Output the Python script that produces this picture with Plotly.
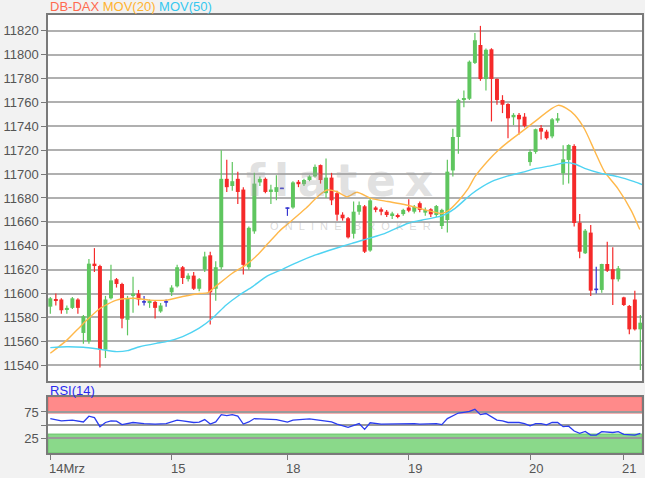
import plotly.graph_objects as go

# ---------------- data ----------------
opens = [11589, 11595, 11595, 11587, 11588, 11595, 11567, 11560, 11625, 11623,
         11553, 11596, 11612, 11608, 11578, 11598, 11600, 11593, 11592, 11593,
         11585, 11593, 11601, 11606, 11622, 11612, 11615, 11604, 11620, 11632,
         11604, 11622, 11696, 11690, 11696, 11687, 11622, 11652, 11693, 11696,
         11685, 11685, 11688, 11671.5, 11672, 11693.5, 11691.5, 11695, 11698, 11707.5,
         11684, 11697, 11684, 11666, 11663, 11650, 11668.5, 11673, 11636, 11672,
         11670.5, 11668.5, 11665.7, 11665.7, 11666.5, 11672, 11668.5, 11675.6, 11667.7, 11670.5,
         11665.7, 11656.5, 11661.5, 11703, 11731, 11762, 11763, 11793, 11808, 11779.5,
         11804.4, 11779.6, 11762, 11758.6, 11747.5, 11749.5, 11748, 11710, 11718.5, 11738.5,
         11735.5, 11731.5, 11744.7, 11700.6, 11711.8, 11723.5, 11659.3, 11633.7, 11651, 11603.5,
         11603, 11624.7, 11620.3, 11611.9, 11596.8, 11589.6, 11595, 11570]
highs = [11597, 11600, 11596, 11590, 11597, 11596, 11582, 11629, 11638, 11624,
         11598, 11624, 11613, 11609, 11598, 11614, 11603, 11598, 11595, 11594,
         11592, 11595, 11607, 11624, 11623, 11617, 11618, 11613, 11635, 11635,
         11627, 11720, 11712, 11710, 11702, 11689, 11656, 11701, 11698, 11697,
         11691, 11699, 11688.5, 11672, 11694, 11695, 11696, 11699, 11708, 11708,
         11713, 11701, 11686, 11668, 11664, 11677, 11677, 11674, 11680, 11673,
         11672, 11670, 11668.5, 11667, 11671, 11679, 11674, 11677, 11672, 11671.3,
         11674, 11671, 11712, 11738, 11763, 11770, 11795, 11818, 11824, 11805,
         11805.3, 11780, 11766, 11759.2, 11751, 11751, 11751, 11720.5, 11738, 11741,
         11737, 11747, 11751, 11724, 11725, 11725, 11666.6, 11654, 11657.4, 11622.5,
         11625, 11643.4, 11638.7, 11623, 11597.4, 11590.4, 11602.4, 11582]
lows = [11583, 11590, 11583, 11583, 11587, 11583, 11558, 11558, 11618, 11538,
        11546, 11595, 11605, 11571, 11565, 11584, 11590, 11590, 11588, 11579,
        11584, 11589, 11598, 11605, 11608, 11610, 11603, 11602, 11618, 11574,
        11594, 11620, 11685, 11686, 11675, 11616, 11620, 11650, 11690, 11684,
        11675, 11678, 11687.5, 11665, 11671, 11689, 11690, 11694, 11697, 11692,
        11680, 11674, 11661, 11661, 11646, 11646, 11666, 11634, 11635, 11668,
        11665.5, 11664, 11662.4, 11663, 11665, 11668, 11667, 11668, 11665, 11664,
        11664, 11654, 11651, 11698, 11717, 11756, 11762, 11792, 11778, 11770,
        11744, 11758, 11751, 11730, 11741, 11733, 11739, 11707, 11717, 11729,
        11729, 11730, 11743, 11691, 11692, 11656, 11629.5, 11633, 11598, 11600,
        11600.7, 11618, 11590.4, 11610, 11589.6, 11566, 11569, 11536]
closes = [11596, 11594, 11586, 11588, 11596, 11588, 11581, 11625, 11623, 11553,
          11595, 11611, 11608, 11579, 11596, 11600, 11595, 11593, 11594, 11588,
          11590, 11593, 11605, 11622, 11613, 11615, 11604, 11612, 11631, 11601,
          11622, 11696, 11689, 11694, 11685, 11624, 11655, 11692, 11696, 11685,
          11687, 11689, 11688, 11671.5, 11693, 11691.5, 11695, 11698, 11706, 11695,
          11697, 11678, 11666, 11663, 11647, 11668.5, 11674, 11635, 11678, 11670,
          11668.5, 11665.7, 11667, 11664.3, 11670, 11669.3, 11672.7, 11670, 11670, 11666.3,
          11673.2, 11670, 11702, 11731, 11762, 11763.4, 11794, 11812, 11779.5, 11804,
          11779.6, 11762, 11758, 11746.6, 11749.5, 11745.8, 11740.2, 11718.5, 11737.5, 11735.5,
          11730, 11745.8, 11746.6, 11712.3, 11724.3, 11659, 11635, 11652.6, 11602.4, 11603.5,
          11624.7, 11619.1, 11611.9, 11621.1, 11590.4, 11570, 11570, 11575.6]

ma20_x = [0, 3, 6, 9, 12, 15, 18, 21, 24, 27, 28.5, 30, 33, 35.5, 37.5, 39.5, 41.5, 43, 45,
          46.5, 48.7, 50.2, 52, 53.8, 55.6, 58.2, 61.2, 64.2, 66, 68.5, 71, 72.2, 74, 75.8,
          77, 79.5, 81.3, 83.1, 85.5, 87.6, 90.9, 92.1, 93.6, 95.1, 96.9, 98.7, 100.5,
          102.9, 105.4, 106.9]
ma20_y = [11550, 11561, 11575, 11587.5, 11594.5, 11596, 11594.5, 11594.5, 11597.5, 11600,
          11600.5, 11606, 11617, 11624, 11632, 11642, 11652, 11658, 11666, 11672, 11682,
          11686.6, 11685.2, 11681, 11684.7, 11679.6, 11677, 11674.5, 11672.5, 11669.4,
          11667, 11669.5, 11677.5, 11688, 11697.8, 11711.8, 11720.1, 11727.1, 11735.5,
          11743, 11754.7, 11757.5, 11755, 11749.4, 11737.5, 11719.5, 11702, 11688,
          11669, 11653.5]

ma50_x = [0, 3, 6, 9, 12, 14, 16.2, 19.2, 21, 24, 27, 29.4, 31.9, 34.3, 36.7, 39.1, 42.1,
          45.1, 48.1, 50.5, 54.7, 60.7, 64.9, 68, 71, 73.4, 76.4, 80, 83, 86.1, 87.9, 90.9,
          93.3, 95.1, 96.9, 99.9, 102.9, 105.9, 107.4]
ma50_y = [11554.7, 11555.5, 11555, 11553.3, 11551.4, 11552.2, 11555.5, 11558.3, 11559.7,
          11564, 11571, 11579.3, 11590.4, 11598.8, 11605.8, 11614, 11620.3, 11626.7,
          11632.3, 11636, 11642, 11650.4, 11658.8, 11662, 11665, 11671.3, 11683.3,
          11693.6, 11698.4, 11702, 11704.5, 11707, 11709.5, 11708.4, 11704.8, 11700.6,
          11697.8, 11693.6, 11691]

rsi_x = [0, 2, 4, 6, 7, 8, 9, 10, 11, 12, 13, 15, 17, 19, 21, 22, 23, 24, 26, 27, 28, 29,
         30, 31, 32, 33, 34, 35, 36, 37, 39, 41, 43, 44, 47, 49, 51, 52, 54, 56, 57, 58, 60,
         66, 67, 70, 71, 72, 74, 75, 76, 77, 78, 79, 80, 81, 82, 83, 85, 86, 87, 88, 89,
         90, 91, 92, 93, 94, 95, 96, 97, 98, 99, 100, 102, 103, 104, 106, 107]
rsi_y = [62.5, 58, 59.4, 56, 67, 64.4, 47, 55, 58, 57.5, 51, 55, 53, 52, 53, 56, 59.4, 58,
         55, 55.6, 60.6, 52, 56, 70, 68, 70, 67, 52, 56, 62.5, 62, 60.6, 55.6, 59.4, 62,
         59.4, 56, 52, 45.6, 53, 42, 54.4, 52, 53, 52, 53, 51, 62.5, 73, 74.4, 76, 80, 70,
         72, 65.6, 59.4, 58, 55, 55, 53, 48.8, 53, 53, 50.6, 55, 55, 47, 48, 38.8, 34.4,
         38, 31, 31, 37.5, 36, 37.5, 32.5, 31, 34.4]

day_ticks = [0, 22, 43, 65, 87, 103.9]
day_labels = ["14Mrz", "15", "18", "19", "20", "21"]
price_ticks = list(range(11540, 11821, 20))
rsi_ticks = [25, 50, 75]
rsi_labels = ["25", "", "75"]

# ---------------- styling ----------------
GREEN = "#5fc65f"
RED = "#f52a2a"
BLUE = "#3535d0"
ORANGE = "#ffb84a"
CYAN = "#4fd3f2"
RSI_BLUE = "#2a3cf0"
GRID = "#b0b0b0"
FRAME = "#7a7a7a"
FONT = "Liberation Sans, Arial, sans-serif"
BODY_W = 0.72

n = len(opens)
up = [i for i in range(n) if closes[i] > opens[i]]
down = [i for i in range(n) if closes[i] < opens[i]]
doji = [i for i in range(n) if closes[i] == opens[i]]


def wicks(ids):
    xs, ys = [], []
    for i in ids:
        xs += [i, i, None]
        ys += [lows[i], highs[i], None]
    return xs, ys


fig = go.Figure()

for ids, col in ((up, GREEN), (down, RED), (doji, BLUE)):
    wx, wy = wicks(ids)
    fig.add_trace(go.Scatter(x=wx, y=wy, mode="lines", line=dict(color=col, width=1.2),
                             hoverinfo="skip", xaxis="x", yaxis="y"))

for ids, col in ((up, GREEN), (down, RED)):
    fig.add_trace(go.Bar(x=ids, y=[abs(closes[i] - opens[i]) for i in ids],
                         base=[min(opens[i], closes[i]) for i in ids],
                         width=BODY_W, marker=dict(color=col, line=dict(width=0)),
                         hoverinfo="skip", xaxis="x", yaxis="y"))

# doji crosses
dx, dy = [], []
for i in doji:
    dx += [i - BODY_W / 2, i + BODY_W / 2, None]
    dy += [opens[i], opens[i], None]
fig.add_trace(go.Scatter(x=dx, y=dy, mode="lines", line=dict(color=BLUE, width=1.6),
                         hoverinfo="skip", xaxis="x", yaxis="y"))

fig.add_trace(go.Scatter(x=ma20_x, y=ma20_y, mode="lines", line=dict(color=ORANGE, width=1.4, shape="spline", smoothing=0.6),
                         hoverinfo="skip", xaxis="x", yaxis="y"))
fig.add_trace(go.Scatter(x=ma50_x, y=ma50_y, mode="lines", line=dict(color=CYAN, width=1.4, shape="spline", smoothing=0.6),
                         hoverinfo="skip", xaxis="x", yaxis="y"))

fig.add_trace(go.Scatter(x=rsi_x, y=rsi_y, mode="lines", line=dict(color=RSI_BLUE, width=1.3),
                         hoverinfo="skip", xaxis="x2", yaxis="y2"))

XR = [-0.42, 107.3]
main_dom = [0.1644, 1.0]
rsi_dom = [0.0, 0.1285]

shapes = [
    dict(type="rect", xref="x2 domain", yref="y2", x0=0, x1=1, y0=73, y1=104,
         fillcolor="#ff8a8a", line=dict(color="#e86a6a", width=1), layer="below"),
    dict(type="rect", xref="x2 domain", yref="y2", x0=0, x1=1, y0=-3, y1=33,
         fillcolor="#8ad98a", line=dict(color="#6cc46c", width=1), layer="below"),
]

annotations = [
    dict(xref="paper", yref="paper", x=0, y=1, xanchor="left", yanchor="bottom",
         showarrow=False, yshift=-1,
         text=("<span style='color:#ff6a4f'>DB-DAX</span> "
               "<span style='color:#ffb330'>MOV(20)</span> "
               "<span style='color:#36c8f0'>MOV(50)</span>"),
         font=dict(family=FONT, size=13)),
    dict(xref="paper", yref="y2 domain", x=0, y=1, xanchor="left", yanchor="bottom",
         showarrow=False, text="RSI(14)", font=dict(family=FONT, size=13, color="#2a2af0"),
         yshift=-3),
    dict(xref="paper", yref="paper", x=0.49, y=0.622, showarrow=False,
         text="<b>f\u2009l\u2009a\u2009t\u2009e\u2009x</b>",
         font=dict(family="DejaVu Sans", size=44, color="rgba(160,160,160,0.33)")),
    dict(xref="paper", yref="paper", x=0.51, y=0.518, showarrow=False,
         text="\u00a0\u00a0".join(list("ONLINE")) + "\u00a0\u00a0\u00a0\u00a0" + "\u00a0\u00a0".join(list("BROKER")),
         font=dict(family=FONT, size=11, color="rgba(160,160,160,0.4)")),
]
for tv, tl in zip(day_ticks, day_labels):
    annotations.append(dict(xref="x2", yref="y2 domain", x=tv, y=0, xanchor="left",
                            yanchor="top", yshift=-6, xshift=-3, showarrow=False, text=tl,
                            font=dict(family=FONT, size=13, color="#555555")))

fig.update_layout(
    width=645, height=478,
    margin=dict(l=48, r=1, t=15, b=25),
    paper_bgcolor="#f2f2f2", plot_bgcolor="#ffffff",
    showlegend=False, barmode="overlay", hovermode=False,
    xaxis=dict(domain=[0, 1], anchor="y", range=XR, showgrid=False, zeroline=False,
               showticklabels=False, ticks="", showline=True, mirror=True,
               linecolor=FRAME, linewidth=1.5),
    yaxis=dict(domain=main_dom, anchor="x", range=[11526.8, 11833.1], tickvals=price_ticks,
               tickformat="d",
               showgrid=True, gridcolor=GRID, gridwidth=1.5, zeroline=False,
               ticks="outside", ticklen=5, tickcolor=FRAME, showline=True, mirror=True,
               linecolor=FRAME, linewidth=1.5,
               tickfont=dict(family=FONT, size=13, color="#555555")),
    xaxis2=dict(domain=[0, 1], anchor="y2", range=XR, showgrid=False, zeroline=False,
                tickvals=day_ticks, showticklabels=False, ticks="outside", ticklen=5,
                tickcolor=FRAME, showline=True, mirror=True, linecolor=FRAME, linewidth=1.5),
    yaxis2=dict(domain=rsi_dom, anchor="x2", range=[-3, 104], tickvals=rsi_ticks,
                ticktext=rsi_labels, showgrid=True, gridcolor="#9a9a9a", gridwidth=1.5,
                zeroline=False, ticks="outside", ticklen=5, tickcolor=FRAME, showline=True,
                mirror=True, linecolor=FRAME, linewidth=1.5,
                tickfont=dict(family=FONT, size=13, color="#555555")),
    shapes=shapes, annotations=annotations,
)

fig.write_html("out.html", config={"displayModeBar": False},
               post_script="document.body.style.margin='0px';document.body.style.padding='0px';")
